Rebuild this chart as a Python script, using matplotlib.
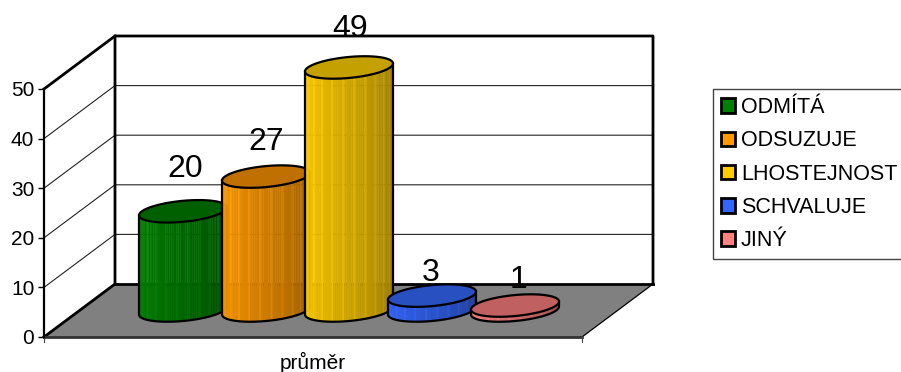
import numpy as np
import matplotlib
matplotlib.use("Agg")
import matplotlib.pyplot as plt
from matplotlib.collections import PolyCollection
from matplotlib.colors import to_rgb
from matplotlib.patches import Patch, Polygon

categories = ["ODMÍTÁ", "ODSUZUJE", "LHOSTEJNOST", "SCHVALUJE", "JINÝ"]
values = [20, 27, 49, 3, 1]
y_ticks = [0, 10, 20, 30, 40, 50]
x_label = "průměr"

side_colors = ["#008000", "#FF9900", "#FFCC00", "#3366FF", "#FF8080"]
top_colors = ["#006000", "#C07000", "#C4A000", "#2850C0", "#C06060"]
label_lift = [42, 35, 38, 23, 26]
label_shift = [2, 0, 1, -1, 3]

plt.rcParams["font.family"] = ["Liberation Sans", "DejaVu Sans"]

PX = 4.96            # pixels per value unit
Y0 = 337             # pixel row of value 0 on the front plane
DX, DY = 71, 53      # depth offset of the back wall
LEFT, RIGHT = 44, 582
DEPTH = (DY / 2) / PX

fig = plt.figure(figsize=(9.01, 3.72), dpi=100)
ax = fig.add_axes([0, 0, 1, 1])
ax.set_xlim(0, 901)
ax.set_ylim((Y0 - 372) / PX, Y0 / PX)


def val(py):
    # pixel row -> value units
    return (Y0 - py) / PX


back = DY / PX
top_v = max(y_ticks)

# walls and floor
ax.add_patch(Polygon([(LEFT + DX, back), (RIGHT + DX, back), (RIGHT + DX, back + top_v),
                      (LEFT + DX, back + top_v)], fc="white", ec="none", zorder=1))
ax.add_patch(Polygon([(LEFT, 0), (LEFT + DX, back), (RIGHT + DX, back), (RIGHT, 0)],
                     fc="#808080", ec="none", zorder=2))

# gridlines along the side wall and back wall
for v in y_ticks[1:-1]:
    ax.plot([LEFT, LEFT + DX, RIGHT + DX], [v, v + back, v + back], color="#222222", lw=0.8, zorder=1.5)

# wall outline
ax.plot([LEFT, LEFT + DX, LEFT + DX], [0, back, back + top_v], color="black", lw=2, zorder=2.5)
ax.plot([LEFT, LEFT + DX, RIGHT + DX, RIGHT + DX], [top_v, back + top_v, back + top_v, back],
        color="black", lw=2, zorder=2.5)
ax.plot([LEFT + DX, RIGHT + DX], [back, back], color="black", lw=2, zorder=2.5)
ax.plot([RIGHT + DX, RIGHT], [back, 0], color="black", lw=0.9, zorder=2.5)
ax.plot([LEFT, RIGHT], [0, 0], color="#333333", lw=2, zorder=2.5)


def ring(cx, v, t):
    # oblique circle of the cylinder cross-section
    a, k, b = 44, 4, 10.5
    return cx + a * np.cos(t), v + (k * np.cos(t) + b * np.sin(t)) / PX


def cylinder(cx, value, side, top, z):
    front = np.linspace(np.pi, 2 * np.pi, 61)
    floor_v = DEPTH
    xb, yb = ring(cx, floor_v, front)
    xt, yt = ring(cx, floor_v + value, front)

    base = np.array(to_rgb(side))
    strips, shades = [], []
    for i in range(len(front) - 1):
        strips.append([(xb[i], yb[i]), (xb[i + 1], yb[i + 1]), (xt[i + 1], yt[i + 1]), (xt[i], yt[i])])
        f = 1 - 0.42 * (i / 59) ** 1.1
        # the faint ribbing on the shaded side
        if i % 5 == 2:
            f = min(1, f + 0.07)
        shades.append(base * f)
    ax.add_collection(PolyCollection(strips, facecolors=shades, edgecolors=shades, linewidths=0.3, zorder=z))

    # side outline and bottom edge
    ax.plot(np.r_[xt[0], xb, xt[-1]], np.r_[yt[0], yb, yt[-1]], color="black", lw=1.6, zorder=z + 0.1)

    all_t = np.linspace(0, 2 * np.pi, 121)
    xe, ye = ring(cx, floor_v + value, all_t)
    ax.fill(xe, ye, fc=top, ec="black", lw=1.6, zorder=z + 0.2)


for i, (v, name) in enumerate(zip(values, categories)):
    cx = 183 + 83 * i
    cylinder(cx, v, side_colors[i], top_colors[i], 3 + i)
    ax.text(cx + label_shift[i], DEPTH + v + label_lift[i] / PX, str(v), ha="center", va="center",
            fontsize=23, color="black", zorder=10)

# value axis on the front-left edge
ax.spines[["top", "right", "bottom"]].set_visible(False)
ax.spines["left"].set_position(("data", LEFT))
ax.spines["left"].set_bounds(0, top_v)
ax.spines["left"].set_linewidth(1.6)
ax.spines["left"].set_zorder(3)
ax.set_yticks(y_ticks)
ax.tick_params(axis="y", length=4, width=1, pad=3, labelsize=15)

# single category on the front edge
ax.set_xticks([LEFT, RIGHT])
ax.set_xticklabels([])
ax.tick_params(axis="x", direction="out", length=0)
for x in (LEFT, RIGHT):
    ax.plot([x, x], [0, val(342)], color="#444444", lw=0.8, zorder=2.5, clip_on=False)
ax.text((LEFT + RIGHT) / 2, val(362), x_label, ha="center", va="center", fontsize=15)

handles = [Patch(facecolor=c, edgecolor="black", linewidth=2, label=n) for c, n in zip(side_colors, categories)]
leg = ax.legend(handles=handles, loc="upper left", bbox_to_anchor=(713 / 901, 1 - 89 / 372),
                bbox_transform=fig.transFigure, frameon=True, fancybox=False, framealpha=1,
                edgecolor="#444444", fontsize=15.5, handlelength=0.65, handleheight=0.65,
                handletextpad=0.28, labelspacing=0.57, borderpad=0.375, borderaxespad=0)
leg.get_frame().set_linewidth(1)

fig.savefig("out.png", dpi=100)
